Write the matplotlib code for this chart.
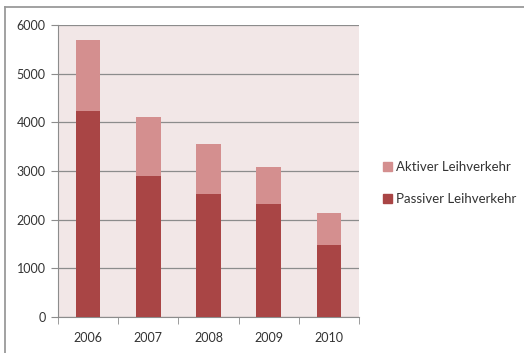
import matplotlib.pyplot as plt
from matplotlib.lines import Line2D
from matplotlib.patches import Patch

years = ["2006", "2007", "2008", "2009", "2010"]
passiv = [4230, 2900, 2520, 2315, 1480]
aktiv = [1470, 1200, 1030, 775, 650]

c_passiv = "#A94545"
c_aktiv = "#D48F8F"

plt.rcParams["font.family"] = ["Lato", "DejaVu Sans"]

fig = plt.figure(figsize=(5.24, 3.53), dpi=100)
# chart frame: only top and left edges fall inside the image
frame_kw = dict(transform=fig.transFigure, color="#9a9a9a", linewidth=1.3)
fig.lines.append(Line2D([5 / 524, 1.0], [1 - 7 / 353, 1 - 7 / 353], **frame_kw))
fig.lines.append(Line2D([5 / 524, 5 / 524], [0.0, 1 - 7 / 353], **frame_kw))

ax = fig.add_axes([58 / 524, 36 / 353, 301 / 524, 292 / 353])
ax.set_facecolor("#F2E7E7")

x = range(len(years))
ax.bar(x, passiv, width=0.41, color=c_passiv, zorder=3)
ax.bar(x, aktiv, width=0.41, bottom=passiv, color=c_aktiv, zorder=3)

ax.set_xlim(-0.5, len(years) - 0.5)
ax.set_ylim(0, 6000)
ax.set_yticks(range(0, 6001, 1000))
ax.set_xticks(list(x))
ax.set_xticklabels(years)
ax.set_xticks([i + 0.5 for i in range(-1, len(years))], minor=True)
ax.yaxis.grid(True, color="#8c8c8c", linewidth=0.9, zorder=1)

for s in ["top", "right"]:
    ax.spines[s].set_visible(False)
for s in ["left", "bottom"]:
    ax.spines[s].set_color("#8c8c8c")
ax.tick_params(axis="y", length=5, color="#8c8c8c", labelsize=9,
               labelcolor="#333333", pad=4)
ax.tick_params(axis="x", which="major", length=0, labelsize=9,
               labelcolor="#333333", pad=11)
ax.tick_params(axis="x", which="minor", length=5, color="#8c8c8c")

handles = [Patch(color=c_aktiv, label="Aktiver Leihverkehr"),
           Patch(color=c_passiv, label="Passiver Leihverkehr")]
fig.legend(handles=handles, loc="center left",
           bbox_to_anchor=(371 / 524, 1 - 183 / 353), frameon=False,
           fontsize=9.5, handlelength=0.7, handleheight=0.7,
           handletextpad=0.3, labelspacing=1.5, labelcolor="#333333")

fig.savefig("out.png", dpi=100)
